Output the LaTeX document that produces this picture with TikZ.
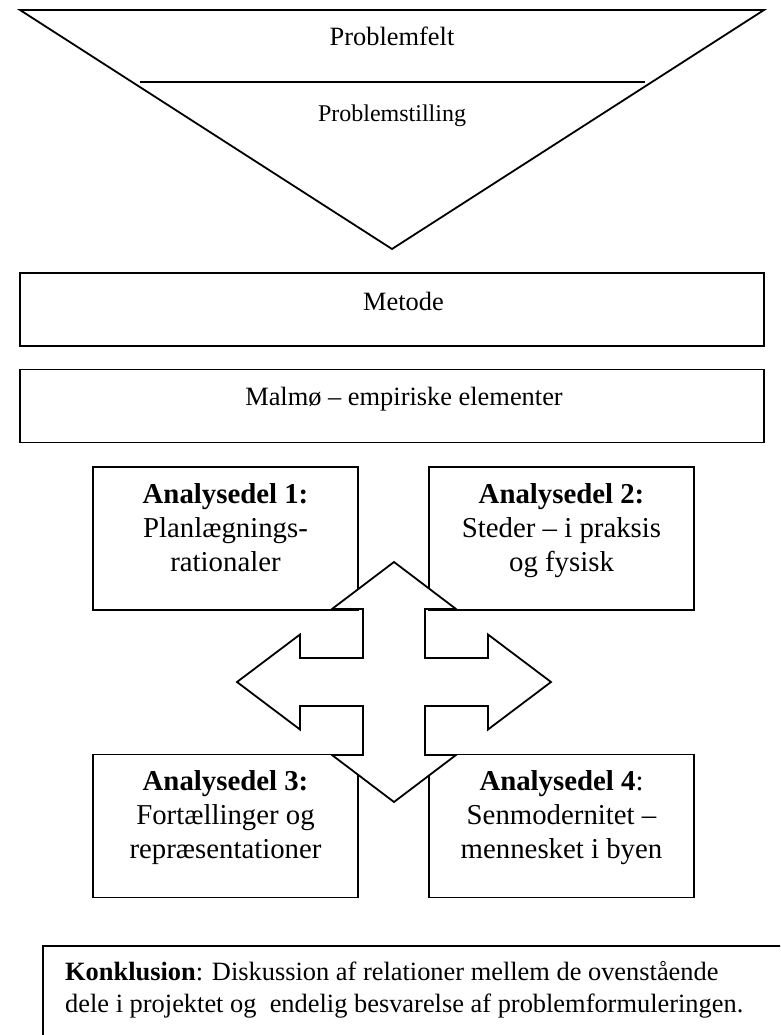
\documentclass[tikz,border=0pt]{standalone}
\usepackage{fontspec}
\setmainfont{Liberation Serif}
\begin{document}
\begin{tikzpicture}[x=1pt,y=-1pt,
  lineb/.style={line width=1.8pt, line join=miter},
  boxb/.style={draw, line width=1.8pt, inner sep=0pt, outer sep=0pt},
  wide/.style={boxb, minimum width=744pt, minimum height=73pt},
  part/.style={boxb, minimum width=265pt, minimum height=143pt},
  txtbig/.style={inner sep=0pt, anchor=base, font=\fontsize{28.8}{34}\selectfont},
  txtmid/.style={inner sep=0pt, anchor=base, font=\fontsize{26.4}{32}\selectfont},
  txtsmall/.style={inner sep=0pt, anchor=base, font=\fontsize{24}{29}\selectfont}]
\clip (0,0) rectangle (780,1035);
\fill[white] (0,0) rectangle (780,1035);

% funnel
\coordinate (tl) at (20,10);
\coordinate (tr) at (764,10);
\coordinate (tb) at (392,249);
\draw[lineb] (tl) -- (tr) -- (tb) -- cycle;
\coordinate (dl) at (140,82);
\coordinate (dr) at (645,82);
\draw[lineb] (dl) -- (dr);
\node[txtmid] (pf) at (392,46) {Problemfelt};
\node[txtsmall] (ps) at (392,121.5) {Problemstilling};

% method boxes
\node[wide] (metbox) at (392,309.5) {};
\node[txtmid] (met) at (403.5,310) {Metode};
\node[wide] (malbox) at (392,406) {};
\node[txtmid] (mal) at (404,405) {Malmø – empiriske elementer};

% analysis boxes
\node[part] (a1) at (225.5,538.5) {};
\node[part] (a2) at (561.5,538.5) {};
\node[part] (a3) at (225.5,826) {};
\node[part] (a4) at (561.5,826) {};

% four-way arrow
\begin{scope}[shift={(394,682)}]
\draw[lineb, fill=white]
  (0,-120) -- (62,-73) -- (31,-73) -- (31,-24) -- (94,-24) -- (94,-47.5)
  -- (157,0) -- (94,47.5) -- (94,24) -- (31,24) -- (31,73) -- (62,73)
  -- (0,120) -- (-62,73) -- (-31,73) -- (-31,24) -- (-94,24) -- (-94,47.5)
  -- (-157,0) -- (-94,-47.5) -- (-94,-24) -- (-31,-24) -- (-31,-73) -- (-62,-73)
  -- cycle;
\end{scope}

\node[txtbig] (t1) at (225.5,503) {\begin{tabular}[t]{@{}c@{}}\textbf{Analysedel 1:}\\Planlægnings-\\rationaler\end{tabular}};
\node[txtbig] (t2) at (561.5,503) {\begin{tabular}[t]{@{}c@{}}\textbf{Analysedel 2:}\\Steder – i praksis\\og fysisk\end{tabular}};
\node[txtbig] (t3) at (225.5,790) {\begin{tabular}[t]{@{}c@{}}\textbf{Analysedel 3:}\\Fortællinger og\\repræsentationer\end{tabular}};
\node[txtbig] (t4) at (561.5,790) {\begin{tabular}[t]{@{}c@{}}\textbf{Analysedel 4}:\\Senmodernitet –\\mennesket i byen\end{tabular}};

% conclusion
\draw[lineb] (43,1060) -- (43,946) -- (800,946);
\coordinate (konk) at (65,980);
\node[txtmid, anchor=base west, font=\fontsize{26.4}{32.5}\selectfont] (kt) at (konk) {\begin{tabular}[t]{@{}l@{}}\textbf{Konklusion}: Diskussion af relationer mellem de ovenstående\\dele i projektet og\ \ endelig besvarelse af problemformuleringen.\end{tabular}};
\end{tikzpicture}
\end{document}
